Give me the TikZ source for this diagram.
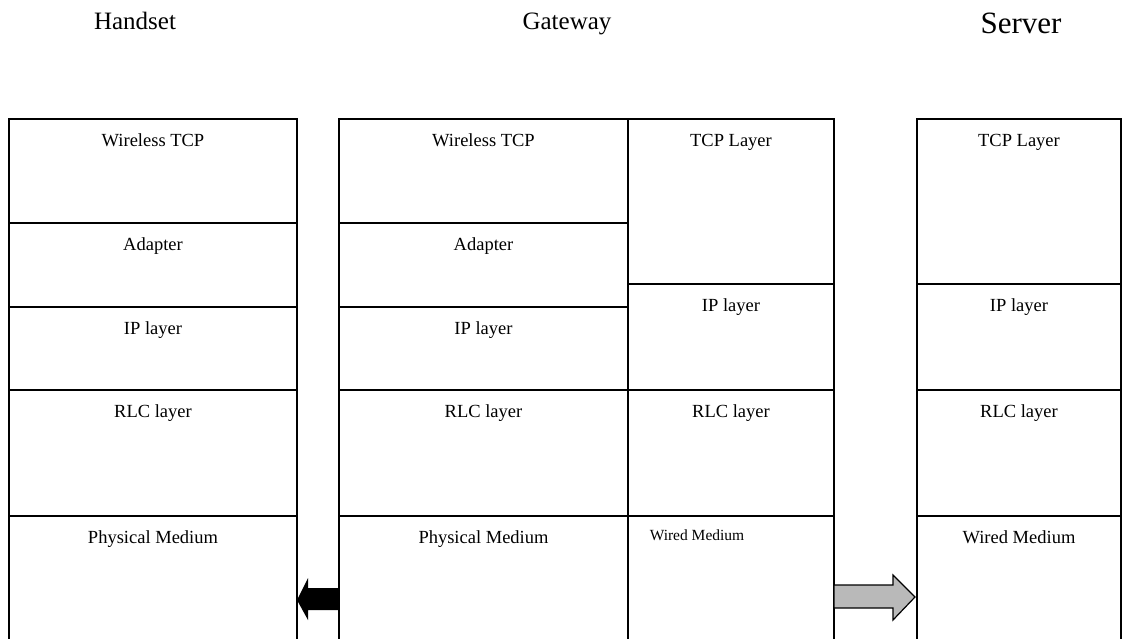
\documentclass[tikz,border=0pt]{standalone}
\usepackage{fontspec}
\setmainfont{Liberation Serif}
\usetikzlibrary{calc}

\begin{document}
\begin{tikzpicture}[x=1pt,y=-1pt,line width=1.5pt,
  cell/.style={draw,rectangle,anchor=north west,inner sep=0pt,outer sep=0pt},
  lab/.style={anchor=base,inner sep=0pt,font=\fontsize{18.5}{20}\selectfont},
  small/.style={lab,font=\fontsize{15.5}{18}\selectfont},
  ttl/.style={anchor=base,inner sep=0pt,font=\fontsize{25}{28}\selectfont}]
\useasboundingbox (0,0) rectangle (1122,638);
% titles
\node[ttl] (thand) at (135,29) {Handset};
\node[ttl] (tgate) at (567,29) {Gateway};
\node[ttl,font=\fontsize{31}{34}\selectfont] (tserv) at (1021,33) {Server};
% protocol stacks
\foreach \n/\x/\y/\w/\h/\t in {
  hw/9/119/288/104/Wireless TCP, ha/9/223/288/84/Adapter, hi/9/307/288/83/IP layer,
  hr/9/390/288/126/RLC layer, hp/9/516/288/130/Physical Medium,
  gw/339/119/289/104/Wireless TCP, ga/339/223/289/84/Adapter, gi/339/307/289/83/IP layer,
  gr/339/390/289/126/RLC layer, gp/339/516/289/130/Physical Medium,
  gt/628/119/206/165/TCP Layer, gj/628/284/206/106/IP layer,
  gs/628/390/206/126/RLC layer,
  st/917/119/204/165/TCP Layer, si/917/284/204/106/IP layer,
  sr/917/390/204/126/RLC layer, sm/917/516/204/130/Wired Medium}{
  \node[cell,minimum width=\w,minimum height=\h] (\n) at (\x,\y) {};
  \node[lab] at ($(\n.north)+(0,27)$) {\t};
}
\node[cell,minimum width=206,minimum height=130] (gm) at (628,516) {};
\node[small,anchor=base west] at ($(gm.north west)+(21,24)$) {Wired Medium};
% arrows between the stacks
\fill ($(hp.east)+(0,19)$) -- ++(11,-22) -- ++(0,10)
  -- ($(gp.west)+(0,7)$) -- ++(0,22) -- ($(hp.east)+(11,29)$)
  -- ++(0,10) -- cycle;
\draw[fill=gray!55,line width=1.2pt] ($(gm.east)+(0,4)$)
  -- ++(59,0) -- ++(0,-10) -- ($(sm.west)+(-2,16)$) -- ++(-22,23)
  -- ++(0,-12) -- ($(gm.east)+(0,27)$) -- cycle;
\end{tikzpicture}
\end{document}
